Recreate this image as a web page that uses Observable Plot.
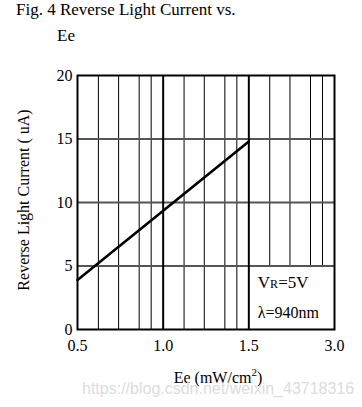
<!DOCTYPE html>
<html><head><meta charset="utf-8">
<script src="https://cdn.jsdelivr.net/npm/d3@7"></script>
<script src="https://cdn.jsdelivr.net/npm/@observablehq/plot@0.6"></script>
<style>
body{margin:0;background:#fff;}
#wrap{position:relative;width:362px;height:407px;font-family:"Liberation Serif","Times New Roman",serif;color:#000;overflow:hidden;}
#chart{position:absolute;left:0;top:0;}
#chart svg text{font-family:"Liberation Serif","Times New Roman",serif !important;}
.t{position:absolute;white-space:nowrap;}
</style></head><body><div id="wrap">
<div id="chart"></div>
<div class="t" style="left:16px;top:0px;font-size:17px;line-height:20px;">Fig. 4 Reverse Light Current vs.</div>
<div class="t" style="left:57px;top:26px;font-size:17px;line-height:20px;">Ee</div>
<div class="t" id="ylab" style="left:24px;top:200px;font-size:16px;line-height:18px;transform:translate(-50%,-50%) rotate(-90deg);">Reverse Light Current ( uA)</div>
<div class="t" style="left:218px;top:369px;font-size:16px;line-height:18px;transform:translateX(-50%);">Ee (mW/cm<span style="font-size:11px;vertical-align:7px;line-height:0;">2</span>)</div>
<div class="t" style="left:82px;top:380px;font-size:16px;line-height:18px;font-family:'Liberation Sans',Arial,sans-serif;color:#dcdcdc;">https://blog.csdn.net/weixin_43718316</div>
</div>
<script>
// ---- data ----
const xTickValues = [0.5, 1.0, 1.5, 3.0];
const xTickLabels = ["0.5", "1.0", "1.5", "3.0"];
const xGridValues = [0.5, 0.6, 0.7, 0.8, 0.9, 1.0, 1.1, 1.2, 1.3, 1.4, 1.5, 1.8, 2.1, 2.4, 2.7, 3.0];
const xMinorLines = [0.6, 0.7, 0.8, 0.9, 1.1, 1.2, 1.3, 1.4, 1.8, 2.1, 2.4, 2.7];
const xMajorLines = [1.0, 1.5];
const yTickValues = [0, 5, 10, 15, 20];
const yGridLines = [5, 10, 15];
const curveEe = [0.5, 1.0, 1.5];
const curveCurrent = [3.9, 9.35, 14.8];
const boxEe = [1.5, 3.0];
const boxCurrent = [0, 5];
const boxLabels = ["VR=5V", "λ=940nm"];
const boxLabelCurrent = [3.7, 1.3];

// ---- layout ----
const W = 362, H = 407, mL = 77, mR = 28, mT = 75, mB = 78;
// the paper's axis: three equal segments, each with the same uneven grid pattern
const frac = [0, 0.244, 0.48, 0.72, 0.86];
const uValues = [];
for (let s = 0; s < 3; s++) for (const f of frac) uValues.push(s + f);
uValues.push(3);
const eeToU = d3.scaleLinear().domain(xGridValues).range(uValues);
const u = v => eeToU(v);

const curve = curveEe.map((x, i) => ({x: u(x), y: curveCurrent[i]}));
const box = [{x1: u(boxEe[0]), x2: u(boxEe[1]), y1: boxCurrent[0], y2: boxCurrent[1]}];
const serif = "'Liberation Serif','Times New Roman',serif";

const svg = Plot.plot({
  width: W, height: H,
  marginLeft: mL, marginRight: mR, marginTop: mT, marginBottom: mB,
  style: `font-family: ${serif}; font-size: 16px; color: #000; background: transparent; overflow: visible;`,
  x: {domain: [0, 3], ticks: xTickValues.map(u), tickFormat: (d) => xTickLabels[xTickValues.map(u).findIndex(t => Math.abs(t - d) < 1e-9)], tickSize: 0, tickPadding: 10, label: null},
  y: {domain: [0, 20], ticks: yTickValues, tickSize: 0, tickPadding: 5, label: null},
  marks: [
    Plot.ruleX(xMinorLines.map(u), {stroke: "#000", strokeWidth: 1}),
    Plot.rect(box, {x1: "x1", x2: "x2", y1: "y1", y2: "y2", fill: "white"}),
    Plot.ruleY(yGridLines, {stroke: "#555", strokeWidth: 2}),
    Plot.ruleX(xMajorLines.map(u), {stroke: "#000", strokeWidth: 2}),
    Plot.frame({stroke: "#000", strokeWidth: 2}),
    Plot.line(curve, {x: "x", y: "y", stroke: "#000", strokeWidth: 2.6}),
    Plot.text(boxLabels, {x: () => u(boxEe[0]), y: (d, i) => boxLabelCurrent[i], text: d => d, textAnchor: "start", dx: 9, fontSize: 16, fontFamily: serif, fill: "#000"})
  ]
});
document.getElementById("chart").appendChild(svg);

d3.select(svg).attr("font-family", serif).attr("font-size", 16);
d3.select(svg).selectAll("text").filter(function(){ return this.textContent === "VR=5V"; }).each(function(){
  const t = d3.select(this);
  t.text("");
  t.append("tspan").attr("font-size", 17).text("V");
  t.append("tspan").attr("font-size", 12).text("R");
  t.append("tspan").attr("font-size", 17).text("=5V");
});
</script>
</body></html>
